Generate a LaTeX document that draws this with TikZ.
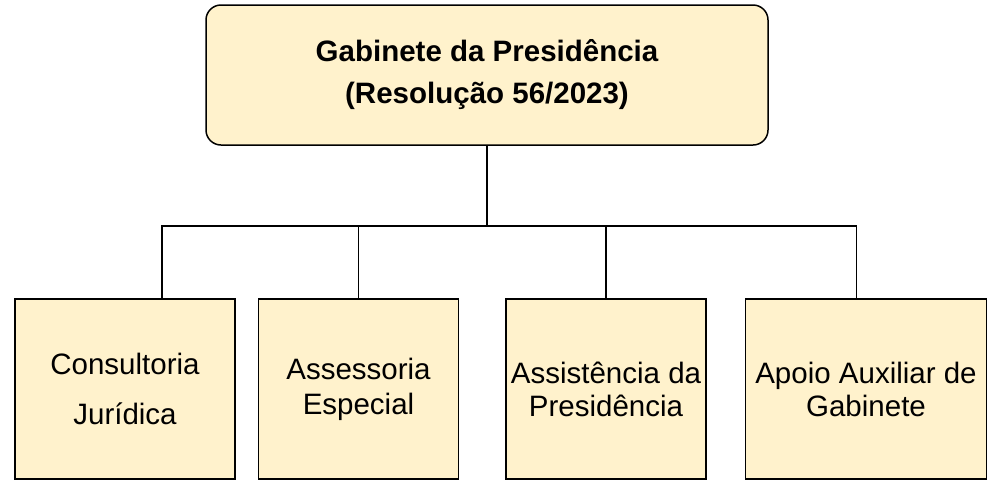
\documentclass[tikz,border=0pt]{standalone}
\usepackage{fontspec}
\setmainfont{Liberation Sans}
\usepackage{tikz}
\usetikzlibrary{positioning, calc}
\definecolor{boxfill}{HTML}{FFF2CC}
\tikzset{
    head/.style={rectangle, rounded corners=15pt, draw=black, fill=boxfill,
                 line width=1.5pt, minimum width=562pt, minimum height=140pt,
                 align=center, font=\fontsize{29.5}{42}\selectfont\bfseries},
    unit/.style={rectangle, draw=black, fill=boxfill, line width=1.5pt,
                 minimum height=180pt, inner sep=0pt, align=center,
                 font=\fontsize{29.5}{33}\selectfont},
    link/.style={line width=1.5pt, draw=black}
}

\begin{document}
\begin{tikzpicture}
  \useasboundingbox (0,0) rectangle (990pt,-480pt);

  % --- Head: Gabinete ---
  \node[head] (gab) at (487pt,-75pt)
        {Gabinete da Presidência\\(Resolução 56/2023)};

  % --- Units ---
  \node[unit, minimum width=220pt] (cj) at (125pt,-389pt)
        {Consultoria\\[17pt]Jurídica};
  \node[unit, minimum width=200pt, right=22pt of cj] (ae)
        {Assessoria\\[2pt]Especial};
  \node[unit, minimum width=200pt, right=46pt of ae] (ap)
        {Assistência da\\Presidência};
  \node[unit, minimum width=241pt, right=38pt of ap] (aa)
        {Apoio Auxiliar de\\Gabinete};

  % --- Connectors ---
  \coordinate (bus) at ($(gab.south)+(0,-80pt)$);
  \coordinate (cjtop) at ($(cj.north west)!0.668!(cj.north east)$);
  \coordinate (aatop) at ($(aa.north west)!0.46!(aa.north east)$);
  \draw[link] (gab.south) -- (bus);
  \draw[link] (cjtop) -- (cjtop |- bus) -- (aatop |- bus) -- (aatop);
  \draw[link] (ae.north) -- (ae.north |- bus);
  \draw[link] (ap.north) -- (ap.north |- bus);

\end{tikzpicture}
\end{document}
